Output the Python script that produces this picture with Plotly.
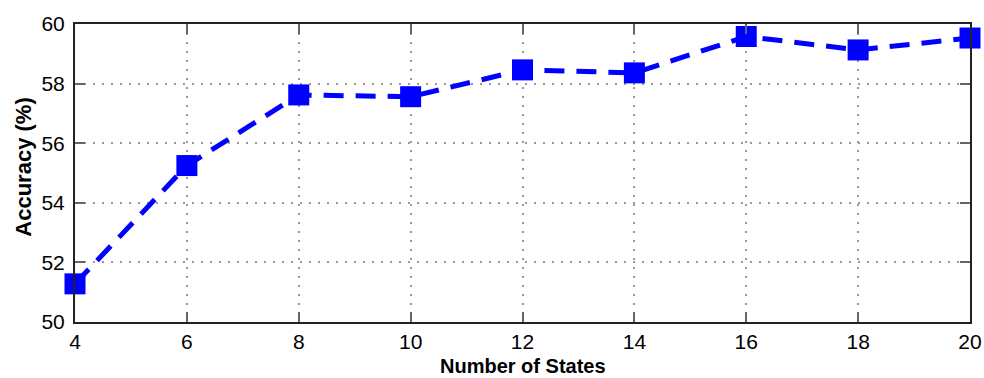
import plotly.graph_objects as go

states = [4, 6, 8, 10, 12, 14, 16, 18, 20]
accuracy = [51.28, 55.25, 57.62, 57.56, 58.46, 58.36, 59.58, 59.13, 59.53]
x_ticks = [4, 6, 8, 10, 12, 14, 16, 18, 20]
y_ticks = [50, 52, 54, 56, 58, 60]
x_title = "<b>Number of States</b>"
y_title = "<b>Accuracy (%)</b>"

FONT = "Liberation Sans, Arial, sans-serif"

fig = go.Figure()
fig.add_trace(go.Scatter(
    x=states, y=accuracy, mode="lines+markers",
    line=dict(color="#0000ff", width=5, dash="20px,12px"),
    marker=dict(symbol="square", size=21, color="#0000ff"),
    cliponaxis=False, showlegend=False,
))

axis_common = dict(
    showline=True, linecolor="#222222", linewidth=2, mirror="ticks",
    ticks="inside", ticklen=10, tickcolor="#666666", tickwidth=2,
    showgrid=True, gridcolor="#999999", griddash="2px,7px", gridwidth=1.5,
    zeroline=False, automargin=False,
    tickfont=dict(family=FONT, size=21, color="black"),
)

fig.update_xaxes(range=[4, 20], tickvals=x_ticks, ticklabelstandoff=0, **axis_common)
fig.update_yaxes(range=[50, 60], tickvals=y_ticks, ticklabelstandoff=4, **axis_common)

fig.add_annotation(text=x_title, xref="paper", yref="paper", x=0.5, y=-0.148,
                   xanchor="center", yanchor="middle", showarrow=False,
                   font=dict(family=FONT, size=20, color="black"))
fig.add_annotation(text=y_title, xref="paper", yref="paper", x=-0.0585, y=0.52,
                   xanchor="center", yanchor="middle", showarrow=False, textangle=-90,
                   font=dict(family=FONT, size=22, color="black"))

fig.update_layout(
    width=984, height=378,
    margin=dict(l=75, r=14, t=24, b=56),
    plot_bgcolor="white", paper_bgcolor="white",
)

fig.write_html("out.html")
